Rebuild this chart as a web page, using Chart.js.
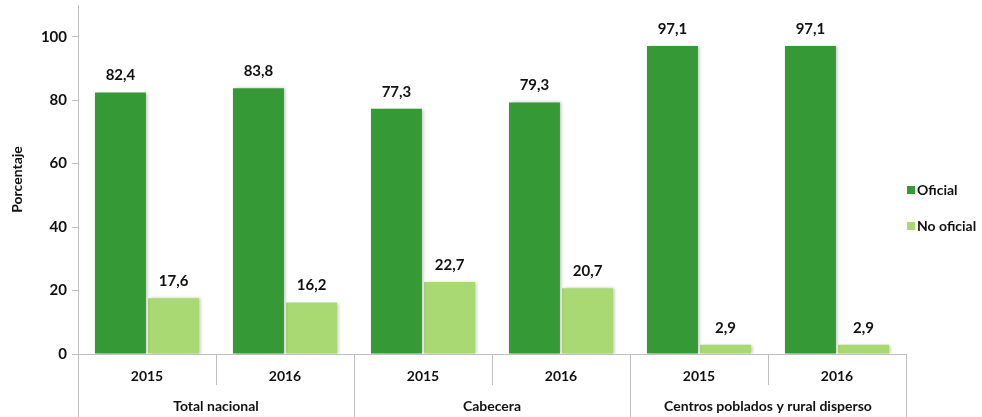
<!DOCTYPE html>
<html><head><meta charset="utf-8">
<script src="https://cdn.jsdelivr.net/npm/chart.js@4/dist/chart.umd.min.js"></script>
<style>html,body{margin:0;padding:0;background:#fff}#wrap{width:982px;height:417px}</style>
</head><body><div id="wrap"><canvas id="c" width="982" height="417"></canvas></div>
<script>
const years = ['2015','2016','2015','2016','2015','2016'];
const groups = ['Total nacional','Cabecera','Centros poblados y rural disperso'];
const oficial = [82.4, 83.8, 77.3, 79.3, 97.1, 97.1];
const noOficial = [17.6, 16.2, 22.7, 20.7, 2.9, 2.9];
const seriesNames = ['Oficial','No oficial'];
const yTicks = [0, 20, 40, 60, 80, 100];

const FONT = 'Lato';
const TXT = '#111111';
const AX = '#bfbfbf';

const shadowPlugin = {
  id: 'shadow',
  beforeDatasetsDraw(chart) {
    const ctx = chart.ctx; ctx.save();
    ctx.shadowColor = 'rgba(0,0,0,0.22)'; ctx.shadowBlur = 3; ctx.shadowOffsetX = 2; ctx.shadowOffsetY = 0;
  },
  afterDatasetsDraw(chart) { chart.ctx.restore(); }
};

const labelPlugin = {
  id: 'vals',
  afterDatasetsDraw(chart) {
    const ctx = chart.ctx; ctx.save();
    ctx.font = 'bold 15px ' + FONT; ctx.fillStyle = TXT; ctx.textAlign = 'center'; ctx.textBaseline = 'middle';
    chart.data.datasets.forEach((ds, i) => {
      chart.getDatasetMeta(i).data.forEach((el, j) => {
        ctx.fillText(ds.data[j].toFixed(1).replace('.', ','), el.x, el.y - 17);
      });
    });
    ctx.restore();
  }
};

const legendPlugin = {
  id: 'legendR',
  afterDraw(chart) {
    const ctx = chart.ctx; const a = chart.chartArea; ctx.save();
    ctx.font = 'bold 14px ' + FONT; ctx.textBaseline = 'middle'; ctx.textAlign = 'left';
    const ys = [190, 226];
    chart.data.datasets.forEach((ds, i) => {
      ctx.fillStyle = ds.backgroundColor;
      ctx.fillRect(a.right + 1, ys[i] - 4, 8, 8);
      ctx.fillStyle = TXT;
      ctx.fillText(ds.label, a.right + 11, ys[i]);
    });
    ctx.restore();
  }
};

new Chart(document.getElementById('c'), {
  type: 'bar',
  data: {
    labels: years,
    datasets: [
      { label: seriesNames[0], data: oficial, backgroundColor: '#359a35', categoryPercentage: 0.77, barPercentage: 0.96 },
      { label: seriesNames[1], data: noOficial, backgroundColor: '#a8d973', categoryPercentage: 0.77, barPercentage: 0.96 }
    ]
  },
  options: {
    responsive: false, devicePixelRatio: 1, animation: false,
    layout: { padding: { top: 5, right: 76, left: 0, bottom: 0 } },
    plugins: { legend: { display: false }, tooltip: { enabled: false } },
    scales: {
      y: {
        min: 0, max: 110,
        afterBuildTicks: s => { s.ticks = yTicks.map(v => ({ value: v })); },
        ticks: { font: { family: FONT, weight: 'bold', size: 15 }, color: TXT, padding: 5 },
        grid: { drawOnChartArea: false, tickLength: 6, color: AX },
        border: { color: AX },
        title: { display: true, text: 'Porcentaje', font: { family: FONT, weight: 'bold', size: 14 }, color: TXT, padding: { top: 9, bottom: 0 } },
        afterFit: s => { s.width = 78; s.paddingTop = 0; s.paddingBottom = 0; }
      },
      x: {
        type: 'category', position: 'bottom', weight: 0, offset: true,
        grid: { offset: true, drawOnChartArea: false, tickLength: 31, color: AX },
        border: { display: true, color: AX },
        ticks: { font: { family: FONT, weight: 'bold', size: 14 }, color: TXT, padding: -17, maxRotation: 0, autoSkip: false },
        afterFit: s => { s.height = 31; s.paddingLeft = 0; s.paddingRight = 0; }
      },
      x2: {
        type: 'category', axis: 'x', labels: groups, position: 'bottom', weight: 1, offset: true,
        grid: { offset: true, drawOnChartArea: false, tickLength: 32, color: AX },
        border: { display: false },
        ticks: { font: { family: FONT, weight: 'bold', size: 14 }, color: TXT, padding: -19, maxRotation: 0, autoSkip: false },
        afterFit: s => { s.height = 32; s.paddingLeft = 0; s.paddingRight = 0; }
      }
    }
  },
  plugins: [shadowPlugin, labelPlugin, legendPlugin]
});
</script></body></html>
